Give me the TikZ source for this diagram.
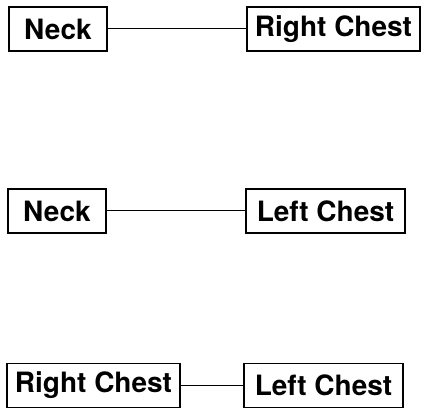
\documentclass[tikz,border=0pt]{standalone}
\usepackage{fontspec}
\setmainfont{TeX Gyre Heros}
\begin{document}
\begin{tikzpicture}[x=1pt,y=-1pt,
  part/.style={draw, line width=1.4pt, inner sep=0pt, minimum height=44pt,
    font=\fontsize{28}{32}\selectfont\bfseries},
  link/.style={line width=1pt}]
\useasboundingbox (0,0) rectangle (421,409);
% first pair
\node[part, minimum width=98pt]  (n1) at (58,29)   {Neck};
\node[part, minimum width=173pt] (r1) at (333.5,29) {Right Chest};
% second pair
\node[part, minimum width=98pt]  (n2) at (57,211)  {Neck};
\node[part, minimum width=159pt] (l2) at (325.5,211) {Left Chest};
% third pair
\node[part, minimum width=173pt] (r3) at (93.5,385.5) {Right Chest};
\node[part, minimum width=159pt] (l3) at (323.5,385.5) {Left Chest};
\draw[link] (n1.east) -- (r1.west);
\draw[link] (n2.east) -- (l2.west);
\draw[link] (r3.east) -- (l3.west);
\end{tikzpicture}
\end{document}
